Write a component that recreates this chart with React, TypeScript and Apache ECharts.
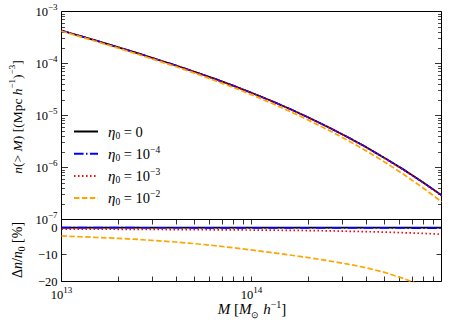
import React, { useEffect, useRef } from 'react';
import * as echarts from 'echarts';

// Halo mass grid (M_sun / h)
const massM = [1e13, 1.259e13, 1.585e13, 1.995e13, 2.512e13, 3.162e13, 3.981e13, 5.012e13, 6.31e13, 7.943e13,
  1e14, 1.259e14, 1.585e14, 1.995e14, 2.512e14, 3.162e14, 3.981e14, 5.012e14, 6.31e14, 7.943e14, 1e15];

// Cumulative number density n(>M)
const nEta0 = [4.31e-4, 3.37e-4, 2.63e-4, 2.04e-4, 1.58e-4, 1.21e-4, 9.24e-5, 6.96e-5, 5.17e-5, 3.79e-5,
  2.74e-5, 1.94e-5, 1.35e-5, 9.17e-6, 6.1e-6, 3.96e-6, 2.5e-6, 1.53e-6, 9.13e-7, 5.27e-7, 2.94e-7];
const nEta4 = [4.31e-4, 3.37e-4, 2.63e-4, 2.04e-4, 1.58e-4, 1.21e-4, 9.23e-5, 6.95e-5, 5.17e-5, 3.79e-5,
  2.74e-5, 1.94e-5, 1.35e-5, 9.16e-6, 6.09e-6, 3.96e-6, 2.5e-6, 1.53e-6, 9.12e-7, 5.26e-7, 2.93e-7];
const nEta3 = [4.29e-4, 3.35e-4, 2.61e-4, 2.03e-4, 1.57e-4, 1.2e-4, 9.17e-5, 6.91e-5, 5.13e-5, 3.76e-5,
  2.72e-5, 1.92e-5, 1.34e-5, 9.07e-6, 6.03e-6, 3.91e-6, 2.46e-6, 1.5e-6, 8.96e-7, 5.16e-7, 2.87e-7];
const nEta2 = [4.18e-4, 3.26e-4, 2.53e-4, 1.96e-4, 1.51e-4, 1.15e-4, 8.74e-5, 6.54e-5, 4.82e-5, 3.51e-5,
  2.51e-5, 1.76e-5, 1.21e-5, 8.15e-6, 5.36e-6, 3.43e-6, 2.13e-6, 1.28e-6, 7.4e-7, 4.12e-7, 2.2e-7];

// Relative difference Δn/n0 in percent
const dEta0 = [0, 0, 0, 0, 0, 0, 0, 0, 0, 0, 0, 0, 0, 0, 0, 0, 0, 0, 0, 0, 0];
const dEta4 = [-0.05, -0.05, -0.05, -0.05, -0.05, -0.06, -0.06, -0.07, -0.07, -0.08,
  -0.08, -0.09, -0.1, -0.1, -0.11, -0.12, -0.13, -0.14, -0.16, -0.18, -0.2];
const dEta3 = [-0.55, -0.58, -0.6, -0.63, -0.66, -0.7, -0.74, -0.78, -0.82, -0.86,
  -0.9, -0.96, -1.02, -1.1, -1.2, -1.35, -1.5, -1.68, -1.9, -2.15, -2.45];
const dEta2 = [-3.1, -3.4, -3.7, -4.0, -4.4, -4.85, -5.35, -5.95, -6.65, -7.45,
  -8.3, -9.2, -10.15, -11.15, -12.25, -13.45, -14.85, -16.6, -18.9, -21.6, -24.8];

const seriesNames = ['eta0', 'eta4', 'eta3', 'eta2'];
const legendExps = ['', '−4', '−3', '−2'];
const seriesColors = ['#000000', '#0000ff', '#ff0000', '#ffa500'];
const seriesDash: any[] = ['solid', [9.6, 2.4, 1.5, 2.4], [1.5, 2.5], [5.5, 2.4]];

const yTopMajor = [1e-7, 1e-6, 1e-5, 1e-4, 1e-3];
const xMajor = [1e13, 1e14, 1e15];
const yBottomMajor = [-20, -10, 0];

const SERIF = 'Liberation Serif';

function minorTicks(majors: number[]) {
  const out: number[] = [];
  for (let i = 0; i < majors.length - 1; i++) {
    for (let k = 2; k <= 9; k++) out.push(k * majors[i]);
  }
  return out;
}

const tickRich = {
  b: { fontFamily: SERIF, fontSize: 12.5, lineHeight: 18, color: '#000' },
  s: { fontFamily: SERIF, fontSize: 9, lineHeight: 9, verticalAlign: 'top', color: '#000' },
};

function powLabel(v: number) {
  const e = Math.round(Math.log10(v));
  const es = e < 0 ? '−' + -e : String(e);
  return `{b|10}{s|${es}}`;
}

export default function App() {
  const ref = useRef<HTMLDivElement>(null);
  useEffect(() => {
    if (!ref.current) return;
    const chart = echarts.init(ref.current, undefined, { renderer: 'svg' });
    const topData = [nEta0, nEta4, nEta3, nEta2];
    const botData = [dEta0, dEta4, dEta3, dEta2];
    const series: any[] = [];
    seriesNames.forEach((name, i) => {
      series.push({
        name, type: 'line', xAxisIndex: 0, yAxisIndex: 0, symbol: 'none', smooth: false,
        data: massM.map((m, j) => [m, topData[i][j]]),
        lineStyle: { color: seriesColors[i], width: 1.7, type: seriesDash[i], cap: 'butt' },
        itemStyle: { color: seriesColors[i] },
        z: 2 + i,
      });
    });
    seriesNames.forEach((name, i) => {
      series.push({
        name, type: 'line', xAxisIndex: 1, yAxisIndex: 4, symbol: 'none', clip: true,
        data: massM.map((m, j) => [m, botData[i][j]]),
        lineStyle: { color: seriesColors[i], width: 1.7, type: seriesDash[i], cap: 'butt' },
        itemStyle: { color: seriesColors[i] },
        z: 2 + i,
      });
    });

    const allX = [...xMajor, ...minorTicks(xMajor)];
    const yMinor = minorTicks(yTopMajor);
    const hiddenLabel = { show: false };
    const noLine = { show: false, onZero: false };
    const logBase = { type: 'log', logBase: 10, splitLine: { show: false }, axisLine: noLine };
    const tickLine = { color: '#000', width: 0.8 };

    const option: any = {
      animation: false,
      backgroundColor: '#fff',
      textStyle: { fontFamily: SERIF },
      grid: [
        { left: 61.5, right: 18.5, top: 11.5, height: 208, show: true, borderColor: '#000', borderWidth: 1, backgroundColor: 'transparent' },
        { left: 61.5, right: 18.5, top: 219.5, height: 62, show: true, borderColor: '#000', borderWidth: 1, backgroundColor: 'transparent' },
      ],
      xAxis: [
        { ...logBase, gridIndex: 0, min: 1e13, max: 1e15, axisTick: { show: false }, axisLabel: hiddenLabel },
        {
          ...logBase, gridIndex: 1, min: 1e13, max: 1e15, position: 'bottom',
          axisTick: { show: true, inside: true, length: 5, customValues: allX, lineStyle: tickLine },
          axisLabel: { show: true, customValues: xMajor, margin: 4, formatter: (v: number) => powLabel(v), rich: tickRich },
        },
        {
          ...logBase, gridIndex: 1, min: 1e13, max: 1e15, position: 'top',
          axisTick: { show: true, inside: true, length: 5, customValues: allX, lineStyle: tickLine },
          axisLabel: hiddenLabel,
        },
      ],
      yAxis: [
        {
          ...logBase, gridIndex: 0, min: 1e-7, max: 1e-3, position: 'left',
          axisTick: { show: true, inside: true, length: 6.5, customValues: yTopMajor, lineStyle: tickLine },
          axisLabel: { show: true, customValues: yTopMajor, margin: 4, formatter: (v: number) => powLabel(v), rich: tickRich },
        },
        {
          ...logBase, gridIndex: 0, min: 1e-7, max: 1e-3, position: 'left',
          axisTick: { show: true, inside: true, length: 3.5, customValues: yMinor, lineStyle: { color: '#000', width: 0.7 } },
          axisLabel: hiddenLabel,
        },
        {
          ...logBase, gridIndex: 0, min: 1e-7, max: 1e-3, position: 'right',
          axisTick: { show: true, inside: true, length: 6.5, customValues: yTopMajor, lineStyle: tickLine },
          axisLabel: hiddenLabel,
        },
        {
          ...logBase, gridIndex: 0, min: 1e-7, max: 1e-3, position: 'right',
          axisTick: { show: true, inside: true, length: 3.5, customValues: yMinor, lineStyle: { color: '#000', width: 0.7 } },
          axisLabel: hiddenLabel,
        },
        {
          type: 'value', gridIndex: 1, min: -20, max: 3, position: 'left', splitLine: { show: false }, axisLine: noLine,
          axisTick: { show: true, inside: true, length: 5, customValues: yBottomMajor, lineStyle: tickLine },
          axisLabel: {
            show: true, customValues: yBottomMajor, margin: 4,
            formatter: (v: number) => `{b|${v < 0 ? '−' + -v : v}}`, rich: tickRich,
          },
        },
        {
          type: 'value', gridIndex: 1, min: -20, max: 3, position: 'right', splitLine: { show: false }, axisLine: noLine,
          axisTick: { show: true, inside: true, length: 5, customValues: yBottomMajor, lineStyle: tickLine },
          axisLabel: hiddenLabel,
        },
      ],
      legend: {
        orient: 'vertical', left: 73, top: 124, padding: 0,
        itemWidth: 24, itemHeight: 14, itemGap: 4.2,
        itemStyle: { opacity: 0 },
        data: seriesNames,
        formatter: (name: string) => {
          const i = seriesNames.indexOf(name);
          const tail = legendExps[i] ? `{t| = 10}{s|${legendExps[i]}}` : '{t| = 0}';
          return `{g|η}{sub|0}${tail}`;
        },
        textStyle: {
          fontFamily: SERIF,
          rich: {
            g: { fontFamily: SERIF, fontStyle: 'italic', fontSize: 15, lineHeight: 18, padding: [0, 0, 0, 5], color: '#000' },
            sub: { fontFamily: SERIF, fontSize: 9.5, lineHeight: 10, verticalAlign: 'bottom', color: '#000' },
            t: { fontFamily: SERIF, fontSize: 14.5, lineHeight: 18, color: '#000' },
            s: { fontFamily: SERIF, fontSize: 9.5, lineHeight: 9, verticalAlign: 'top', color: '#000' },
          },
        },
      },
      graphic: [
        {
          type: 'text', x: 17, y: 117, rotation: Math.PI / 2, z: 10,
          style: {
            text: '{i|n}{r|(> }{i|M}{r|) [(Mpc }{i|h}{s|−1}{r|)}{s|−3}{r|]}',
            align: 'center', verticalAlign: 'middle', fontFamily: SERIF,
            rich: {
              i: { fontFamily: SERIF, fontStyle: 'italic', fontSize: 13.5, lineHeight: 19, fill: '#000' },
              r: { fontFamily: SERIF, fontSize: 13.5, lineHeight: 19, fill: '#000' },
              s: { fontFamily: SERIF, fontSize: 9, lineHeight: 9, verticalAlign: 'top', fill: '#000' },
            },
          },
        },
        {
          type: 'text', x: 17, y: 250, rotation: Math.PI / 2, z: 10,
          style: {
            text: '{r|Δ}{i|n}{r|/}{i|n}{u|0}{r| [%]}',
            align: 'center', verticalAlign: 'middle', fontFamily: SERIF,
            rich: {
              i: { fontFamily: SERIF, fontStyle: 'italic', fontSize: 14, lineHeight: 20, fill: '#000' },
              r: { fontFamily: SERIF, fontSize: 14, lineHeight: 20, fill: '#000' },
              u: { fontFamily: SERIF, fontSize: 9.5, lineHeight: 12, verticalAlign: 'bottom', fill: '#000' },
            },
          },
        },
        {
          type: 'text', x: 252, y: 309, z: 10,
          style: {
            text: '{i|M}{r| [}{i|M}{u|⊙}{r| }{i|h}{s|−1}{r|]}',
            align: 'center', verticalAlign: 'middle', fontFamily: SERIF,
            rich: {
              i: { fontFamily: SERIF, fontStyle: 'italic', fontSize: 15, lineHeight: 20, fill: '#000' },
              r: { fontFamily: SERIF, fontSize: 15, lineHeight: 20, fill: '#000' },
              u: { fontFamily: SERIF, fontSize: 9, lineHeight: 12, verticalAlign: 'bottom', fill: '#000' },
              s: { fontFamily: SERIF, fontSize: 10, lineHeight: 10, verticalAlign: 'top', fill: '#000' },
            },
          },
        },
      ],
      series,
    };
    chart.setOption(option);
    return () => chart.dispose();
  }, []);
  return <div ref={ref} style={{ position: 'fixed', left: 0, top: 0, width: 460, height: 324, background: '#fff' }} />;
}
